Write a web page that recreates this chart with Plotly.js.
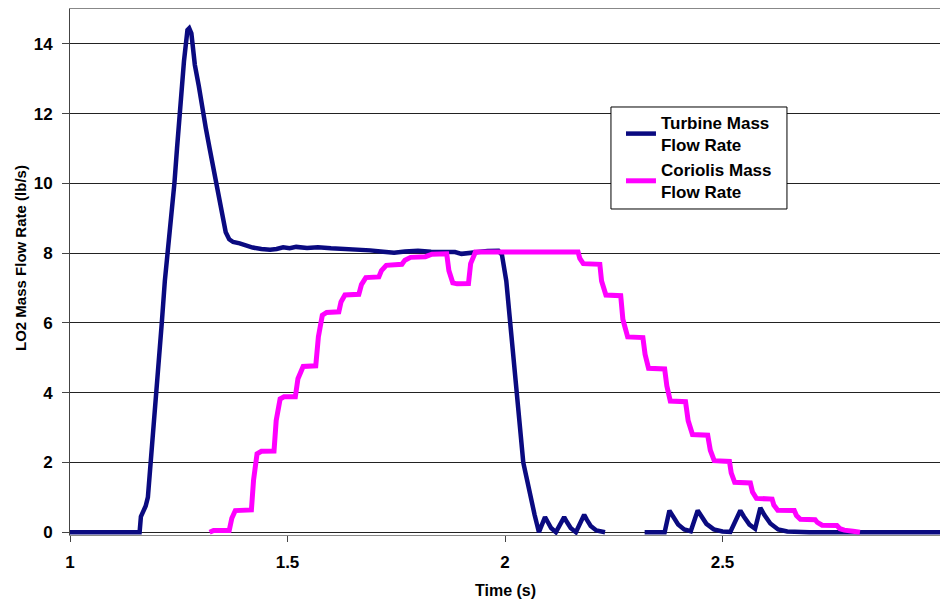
<!DOCTYPE html>
<html>
<head>
<meta charset="utf-8">
<script src="https://cdn.plot.ly/plotly-3.0.1.min.js"></script>
<style>html,body{margin:0;padding:0;background:#fff;}#chart{width:940px;height:599px;}</style>
</head>
<body>
<div id="chart"></div>
<script>
// Turbine Mass Flow Rate (lb/s) vs time (s)
var turbineTime = [1.0, 1.16, 1.163, 1.168, 1.174, 1.179, 1.189, 1.199, 1.206, 1.211, 1.218, 1.225, 1.232, 1.240, 1.246, 1.252, 1.262, 1.270, 1.274, 1.279, 1.287, 1.296, 1.303, 1.312, 1.321, 1.336, 1.350, 1.358, 1.366, 1.375, 1.390, 1.405, 1.420, 1.440, 1.460, 1.475, 1.490, 1.505, 1.520, 1.545, 1.570, 1.600, 1.630, 1.660, 1.690, 1.720, 1.745, 1.770, 1.800, 1.830, 1.860, 1.885, 1.900, 1.915, 1.930, 1.960, 1.985, 1.993, 2.003, 2.012, 2.019, 2.026, 2.034, 2.042, 2.049, 2.058, 2.068, 2.078, 2.092, 2.098, 2.106, 2.117, 2.136, 2.142, 2.151, 2.163, 2.182, 2.188, 2.197, 2.210, 2.230, 2.275, 2.321, 2.367, 2.378, 2.386, 2.398, 2.412, 2.427, 2.443, 2.451, 2.463, 2.480, 2.500, 2.518, 2.541, 2.549, 2.562, 2.575, 2.587, 2.596, 2.610, 2.628, 2.649, 2.700, 3.0];
var turbineFlow = [0, 0, 0.45, 0.6, 0.75, 1.0, 2.5, 4.0, 5.0, 6.0, 7.2, 8.0, 9.0, 10.0, 11.0, 12.0, 13.5, 14.4, 14.45, 14.3, 13.4, 12.8, 12.2, 11.6, 11.0, 10.0, 9.0, 8.6, 8.4, 8.32, 8.28, 8.22, 8.16, 8.12, 8.1, 8.12, 8.17, 8.14, 8.18, 8.15, 8.17, 8.14, 8.13, 8.1, 8.08, 8.04, 8.01, 8.05, 8.07, 8.04, 8.05, 8.03, 7.98, 8.0, 8.05, 8.06, 8.07, 7.95, 7.2, 6.0, 5.0, 4.0, 3.0, 2.0, 1.6, 1.0, 0.5, 0, 0.43, 0.3, 0.12, 0, 0.43, 0.3, 0.12, 0, 0.5, 0.36, 0.18, 0.05, 0, null, 0, 0, 0.62, 0.45, 0.22, 0.08, 0.03, 0.62, 0.45, 0.24, 0.08, 0.02, 0.01, 0.62, 0.45, 0.22, 0.1, 0.7, 0.5, 0.25, 0.08, 0.02, 0, 0];

// Coriolis Mass Flow Rate (lb/s) vs time (s)
var coriolisTime = [1.321, 1.330, 1.366, 1.372, 1.380, 1.417, 1.422, 1.430, 1.440, 1.469, 1.474, 1.483, 1.492, 1.518, 1.524, 1.536, 1.565, 1.571, 1.580, 1.590, 1.618, 1.623, 1.632, 1.664, 1.670, 1.680, 1.710, 1.716, 1.727, 1.763, 1.770, 1.783, 1.817, 1.823, 1.832, 1.866, 1.871, 1.880, 1.890, 1.916, 1.921, 1.932, 2.0, 2.168, 2.172, 2.180, 2.218, 2.222, 2.232, 2.266, 2.271, 2.282, 2.317, 2.322, 2.330, 2.367, 2.372, 2.380, 2.415, 2.421, 2.431, 2.466, 2.472, 2.481, 2.516, 2.520, 2.528, 2.564, 2.569, 2.578, 2.614, 2.618, 2.627, 2.665, 2.670, 2.679, 2.713, 2.718, 2.729, 2.763, 2.770, 2.780, 2.800, 2.816];
var coriolisFlow = [0.0, 0.05, 0.05, 0.4, 0.62, 0.64, 1.5, 2.25, 2.32, 2.33, 3.2, 3.82, 3.88, 3.88, 4.4, 4.75, 4.77, 5.6, 6.22, 6.3, 6.32, 6.6, 6.8, 6.82, 7.1, 7.3, 7.32, 7.5, 7.65, 7.68, 7.8, 7.88, 7.9, 7.93, 7.97, 7.98, 7.5, 7.15, 7.12, 7.13, 7.7, 8.03, 8.04, 8.03, 7.85, 7.7, 7.68, 7.2, 6.8, 6.78, 6.1, 5.6, 5.58, 5.1, 4.7, 4.68, 4.2, 3.76, 3.74, 3.2, 2.8, 2.78, 2.35, 2.05, 2.03, 1.7, 1.43, 1.41, 1.15, 0.97, 0.95, 0.78, 0.63, 0.62, 0.48, 0.37, 0.36, 0.28, 0.2, 0.19, 0.1, 0.06, 0.03, 0];

var xTickVals = [1, 1.5, 2, 2.5, 3];
var xTickText = ['1', '1.5', '2', '2.5', '3'];
var yTickVals = [0, 2, 4, 6, 8, 10, 12, 14];
var yTickText = ['0', '2', '4', '6', '8', '10', '12', '14'];

var fontFam = 'Liberation Sans, Arial, sans-serif';

var traces = [
  {x: turbineTime, y: turbineFlow, type: 'scatter', mode: 'lines',
   name: 'Turbine Mass<br>Flow Rate', connectgaps: false,
   line: {color: '#0a0a80', width: 4.5}},
  {x: coriolisTime, y: coriolisFlow, type: 'scatter', mode: 'lines',
   name: 'Coriolis Mass<br>Flow Rate',
   line: {color: '#ff00ff', width: 5}}
];

var layout = {
  width: 940, height: 599,
  margin: {l: 70, r: 0, t: 9, b: 64},
  paper_bgcolor: '#ffffff', plot_bgcolor: '#ffffff',
  font: {family: fontFam, color: '#000', size: 17},
  showlegend: true,
  legend: {
    x: 0.6333, y: 0.8175, xanchor: 'left', yanchor: 'top',
    bgcolor: 'rgba(0,0,0,0)', borderwidth: 0,
    font: {family: fontFam, size: 17, color: '#000', weight: 'bold'},
    tracegroupgap: 6
  },
  shapes: [
    {type: 'rect', xref: 'paper', yref: 'paper',
     x0: 0.6218, x1: 0.8241, y0: 0.6198, y1: 0.8137,
     line: {color: '#000000', width: 1}, fillcolor: '#ffffff', layer: 'above'}
  ],
  annotations: [
    {text: 'LO2 Mass Flow Rate (lb/s)', xref: 'paper', yref: 'paper',
     x: -0.0575, y: 0.5266, xanchor: 'center', yanchor: 'middle', textangle: -90,
     showarrow: false,
     font: {family: fontFam, size: 15, color: '#000', weight: 'bold'}},
    {text: 'Time (s)', xref: 'paper', yref: 'paper',
     x: 0.5, y: -0.1046, xanchor: 'center', yanchor: 'middle',
     showarrow: false,
     font: {family: fontFam, size: 16, color: '#000', weight: 'bold'}}
  ],
  xaxis: {
    range: [1, 3], tickvals: xTickVals, ticktext: xTickText,
    showgrid: false, zeroline: false,
    showline: true, linecolor: '#888888', linewidth: 1, mirror: true,
    ticks: 'outside', ticklen: 6, tickcolor: '#444444',
    ticklabelstandoff: 6,
    tickfont: {family: fontFam, size: 17, color: '#000', weight: 'bold'},
    automargin: false
  },
  yaxis: {
    range: [-0.08, 15], tickvals: yTickVals, ticktext: yTickText,
    showgrid: true, gridcolor: '#222222', gridwidth: 1, zeroline: false,
    showline: true, linecolor: '#444444', linewidth: 1,
    ticks: 'outside', ticklen: 7, tickcolor: '#444444',
    ticklabelstandoff: 6,
    tickfont: {family: fontFam, size: 17, color: '#000', weight: 'bold'},
    automargin: false
  }
};

Plotly.newPlot('chart', traces, layout, {displayModeBar: false, staticPlot: true});
</script>
</body>
</html>
